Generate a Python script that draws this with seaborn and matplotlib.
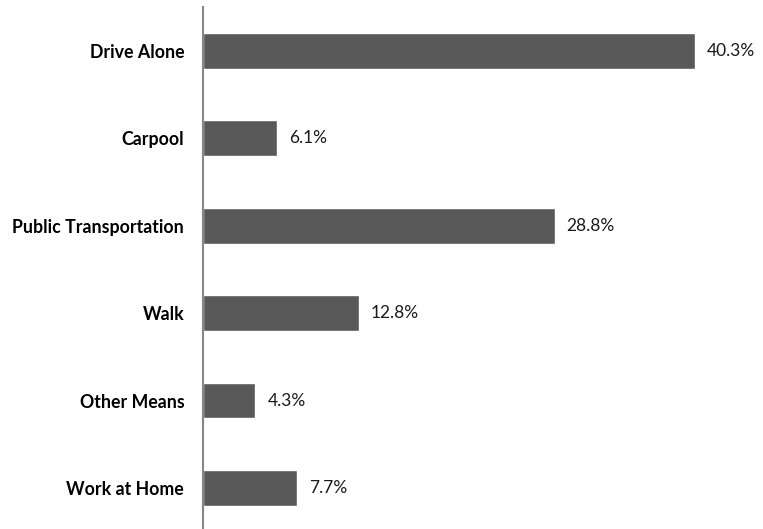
import matplotlib
matplotlib.use('Agg')
import matplotlib.pyplot as plt
import seaborn as sns
import pandas as pd

# Datos del gráfico
modos = ['Drive Alone', 'Carpool', 'Public Transportation', 'Walk', 'Other Means', 'Work at Home']
porcentajes = [40.3, 6.1, 28.8, 12.8, 4.3, 7.7]

df = pd.DataFrame({'modo': modos, 'pct': porcentajes})

sns.set_style('white')
plt.rcParams['font.family'] = ['Lato', 'DejaVu Sans']

fig = plt.figure(figsize=(7.63, 5.29), dpi=100)
ax = fig.add_axes([203 / 763, 1 - 531.75 / 529, 560 / 763, 524.75 / 529])

sns.barplot(data=df, y='modo', x='pct', color='#595959', width=0.41,
            saturation=1, ax=ax, orient='h')

ax.set_xlim(0, 560 / 12.208)
ax.set_ylim(5.5, -0.5)
ax.set_xlabel('')
ax.set_ylabel('')
ax.set_xticks([])

# etiquetas de valor
for cont in ax.containers:
    ax.bar_label(cont, labels=[f'{v:.1f}%' for v in porcentajes],
                 padding=8.5, fontsize=12.5, color='#1a1a1a')

for lbl in ax.get_yticklabels():
    lbl.set_fontweight('bold')
    lbl.set_fontsize(12.8)
    lbl.set_color('#000000')
ax.tick_params(axis='y', length=0, pad=13.5)

for s in ['top', 'right', 'bottom']:
    ax.spines[s].set_visible(False)
ax.spines['left'].set_color('#868686')
ax.spines['left'].set_linewidth(1.5)

fig.savefig('out.png', dpi=100)
